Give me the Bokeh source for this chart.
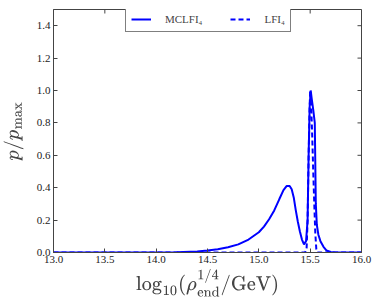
import math
from bokeh.plotting import figure
from bokeh.models import Range1d, Legend, LegendItem, FixedTicker, PrintfTickFormatter
from bokeh.embed import file_html
from bokeh.resources import INLINE

# MCLFI4 posterior (solid)
mclfi_x = [13.0, 13.5, 14.0, 14.2, 14.4, 14.5, 14.6, 14.7, 14.8, 14.9, 15.0, 15.05, 15.1,
           15.15, 15.2, 15.24, 15.27, 15.30, 15.32, 15.34, 15.36, 15.38, 15.40, 15.42, 15.44,
           15.46, 15.475, 15.485, 15.495, 15.505, 15.515, 15.53, 15.545, 15.555, 15.565,
           15.58, 15.60, 15.63, 15.66, 15.70, 15.75, 16.0]
mclfi_y = [0.0, 0.0, 0.0, 0.002, 0.006, 0.012, 0.02, 0.032, 0.05, 0.08, 0.125, 0.16, 0.205,
           0.26, 0.33, 0.385, 0.41, 0.41, 0.39, 0.34, 0.26, 0.19, 0.13, 0.08, 0.05,
           0.07, 0.2, 0.6, 0.9, 1.0, 0.95, 0.88, 0.8, 0.3, 0.17,
           0.11, 0.07, 0.035, 0.012, 0.003, 0.0, 0.0]

# LFI4 posterior (dashed)
lfi_x = [13.0, 15.45, 15.465, 15.475, 15.485, 15.495, 15.50, 15.51, 15.52, 15.53, 15.54,
         15.55, 15.56, 15.57, 16.0]
lfi_y = [0.0, 0.0, 0.02, 0.2, 0.6, 0.9, 1.0, 0.9, 0.72, 0.5, 0.3, 0.12, 0.02, 0.0, 0.0]

x_ticks = [13.0, 13.5, 14.0, 14.5, 15.0, 15.5, 16.0]
y_ticks = [0.0, 0.2, 0.4, 0.6, 0.8, 1.0, 1.2, 1.4]
x_lim = (13.0, 16.0)
y_lim = (0.0, 1.5)

SERIF = "Liberation Serif"
AXC = "#444444"

p = figure(width=373, height=300, output_backend="svg", toolbar_location=None,
           x_range=Range1d(*x_lim), y_range=Range1d(*y_lim),
           min_border_left=48, min_border_right=12, min_border_top=9, min_border_bottom=48,
           background_fill_color="white", border_fill_color="white")
p.grid.visible = False
p.outline_line_color = AXC
p.outline_line_width = 1

for ax, ticks in ((p.xaxis[0], x_ticks), (p.yaxis[0], y_ticks)):
    ax.ticker = FixedTicker(ticks=ticks)
    ax.formatter = PrintfTickFormatter(format="%.1f")
    ax.axis_line_color = AXC
    ax.major_tick_line_color = AXC
    ax.minor_tick_line_color = None
    ax.major_tick_in = 4
    ax.major_tick_out = 0
    ax.major_label_text_font = SERIF
    ax.major_label_text_font_size = "11px"
    ax.major_label_text_color = "#222222"
    ax.major_label_standoff = 3

p.xaxis.axis_label = r"$$\log_{10}(\rho_{\rm end}^{1/4}/{\rm GeV})$$"
p.yaxis.axis_label = r"$$p/p_{\max}$$"
p.xaxis.axis_label_text_font_size = "16px"
p.yaxis.axis_label_text_font_size = "17px"
p.xaxis.axis_label_standoff = 3
p.yaxis.axis_label_standoff = 10

# inward ticks on the top and right spines
p.scatter(x=x_ticks, y=[y_lim[1]] * len(x_ticks), marker="dash", angle=math.pi / 2,
          size=8, line_color=AXC, line_width=1)
p.scatter(x=[x_lim[1]] * len(y_ticks), y=y_ticks, marker="dash", angle=0,
          size=8, line_color=AXC, line_width=1)

r1 = p.line(mclfi_x, mclfi_y, line_color="#0000ff", line_width=2)
r2 = p.line(lfi_x, lfi_y, line_color="#0000ff", line_width=2, line_dash="5 3")

legend = Legend(items=[LegendItem(label="MCLFI₄", renderers=[r1]),
                       LegendItem(label="LFI₄", renderers=[r2])],
                orientation="horizontal", location=(72, 220),
                label_text_font=SERIF, label_text_font_size="11px",
                label_height=14, glyph_height=14,
                border_line_color="black", border_line_width=1,
                padding=5, spacing=28, glyph_width=20, label_standoff=14,
                margin=0, background_fill_alpha=1.0)
p.add_layout(legend, "center")

open("out.html", "w").write(file_html(p, INLINE))
